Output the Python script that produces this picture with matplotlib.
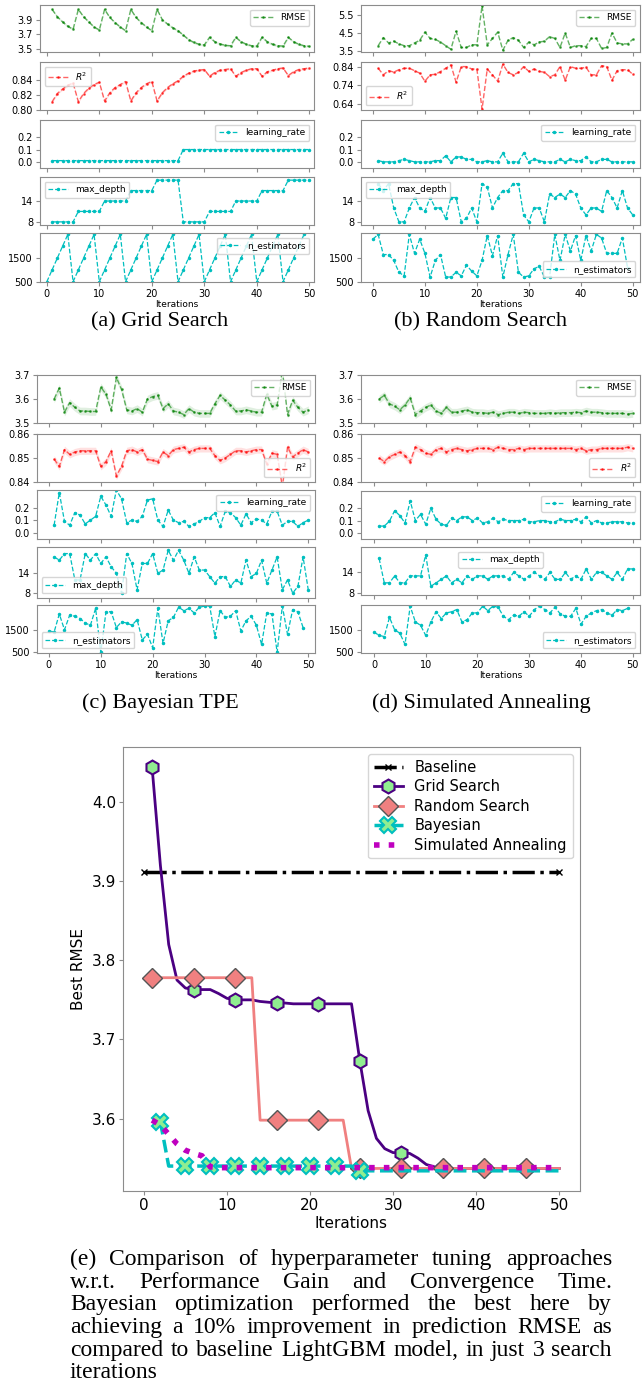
import matplotlib
matplotlib.use("Agg")
import matplotlib.pyplot as plt
import numpy as np

W, H = 642, 1384

ITERS = np.arange(1, 51)
EST_ITERS = np.arange(0, 50)

# ---- (a) grid search ----
GRID_RMSE = [4.04, 3.94, 3.87, 3.81, 3.77, 4.04, 3.94, 3.87, 3.80, 3.76,
             4.04, 3.93, 3.86, 3.80, 3.75, 4.04, 3.93, 3.86, 3.80, 3.75,
             4.04, 3.90, 3.84, 3.79, 3.75, 3.69, 3.63, 3.59, 3.565, 3.557,
             3.66, 3.60, 3.57, 3.55, 3.545, 3.66, 3.60, 3.565, 3.545, 3.54,
             3.66, 3.60, 3.565, 3.545, 3.54, 3.66, 3.60, 3.565, 3.545, 3.537]
GRID_R2 = [0.811, 0.822, 0.828, 0.833, 0.836, 0.811, 0.822, 0.829, 0.834, 0.837,
           0.812, 0.823, 0.830, 0.834, 0.838, 0.812, 0.823, 0.830, 0.835, 0.838,
           0.812, 0.823, 0.830, 0.835, 0.839, 0.845, 0.849, 0.852, 0.853, 0.854,
           0.845, 0.850, 0.853, 0.854, 0.855, 0.845, 0.850, 0.853, 0.855, 0.855,
           0.845, 0.851, 0.853, 0.855, 0.856, 0.846, 0.851, 0.854, 0.855, 0.856]
GRID_LR = [0.01, 0.01, 0.01, 0.01, 0.01, 0.01, 0.01, 0.01, 0.01, 0.01,
           0.01, 0.01, 0.01, 0.01, 0.01, 0.01, 0.01, 0.01, 0.01, 0.01,
           0.01, 0.01, 0.01, 0.01, 0.01, 0.1, 0.1, 0.1, 0.1, 0.1,
           0.1, 0.1, 0.1, 0.1, 0.1, 0.1, 0.1, 0.1, 0.1, 0.1,
           0.1, 0.1, 0.1, 0.1, 0.1, 0.1, 0.1, 0.1, 0.1, 0.1]
GRID_MD = [8, 8, 8, 8, 8, 11, 11, 11, 11, 11, 14, 14, 14, 14, 14,
           17, 17, 17, 17, 17, 20, 20, 20, 20, 20,
           8, 8, 8, 8, 8, 11, 11, 11, 11, 11, 14, 14, 14, 14, 14,
           17, 17, 17, 17, 17, 20, 20, 20, 20, 20]
GRID_NE = [500, 1000, 1500, 2000, 2500, 500, 1000, 1500, 2000, 2500,
           500, 1000, 1500, 2000, 2500, 500, 1000, 1500, 2000, 2500,
           500, 1000, 1500, 2000, 2500, 500, 1000, 1500, 2000, 2500,
           500, 1000, 1500, 2000, 2500, 500, 1000, 1500, 2000, 2500,
           500, 1000, 1500, 2000, 2500, 500, 1000, 1500, 2000, 2500]

# ---- (b) random search ----
RAND_RMSE = [3.80, 4.25, 3.95, 4.05, 3.90, 3.80, 3.80, 3.95, 4.10, 4.55,
             4.20, 4.15, 4.00, 3.80, 3.60, 4.60, 3.70, 3.70, 3.85, 3.85,
             6.00, 3.85, 4.20, 4.55, 3.55, 4.10, 4.25, 4.10, 3.70, 4.00,
             3.85, 4.00, 4.05, 4.30, 4.20, 3.70, 4.50, 3.70, 3.80, 3.80,
             3.75, 4.20, 4.20, 3.65, 3.70, 4.50, 3.95, 3.90, 3.90, 4.15]
RAND_R2 = [0.833, 0.797, 0.820, 0.812, 0.825, 0.833, 0.833, 0.820, 0.806, 0.762,
           0.797, 0.800, 0.815, 0.833, 0.851, 0.757, 0.842, 0.842, 0.829, 0.829,
           0.610, 0.829, 0.797, 0.762, 0.855, 0.810, 0.797, 0.810, 0.842, 0.816,
           0.829, 0.816, 0.811, 0.787, 0.797, 0.842, 0.767, 0.842, 0.833, 0.833,
           0.838, 0.797, 0.797, 0.847, 0.842, 0.767, 0.820, 0.825, 0.825, 0.800]
RAND_LR = [0.01, 0.0, 0.0, 0.0, 0.01, 0.02, 0.01, 0.0, 0.0, 0.0,
           0.0, 0.01, 0.01, 0.05, 0.0, 0.04, 0.04, 0.02, 0.02, 0.0,
           0.0, 0.01, 0.0, 0.0, 0.07, 0.0, 0.0, 0.0, 0.07, 0.0,
           0.02, 0.01, 0.0, 0.0, 0.0, 0.02, 0.0, 0.02, 0.01, 0.01,
           0.04, 0.0, 0.0, 0.02, 0.02, 0.0, 0.0, 0.0, 0.0, 0.0]
RAND_MD = [19, 17, 19, 12, 8, 8, 12, 15, 12, 11,
           15, 12, 12, 9, 15, 15, 8, 9, 12, 8,
           19, 18, 12, 15, 17, 17, 19, 19, 10, 8,
           12, 12, 8, 16, 15, 16, 15, 17, 16, 12,
           10, 12, 12, 11, 17, 15, 12, 17, 12, 10]
RAND_NE = [2300, 2500, 1650, 1650, 1400, 900, 750, 2500, 1700, 2300,
           1700, 700, 1400, 1650, 700, 700, 900, 750, 1200, 950,
           750, 1400, 2450, 1600, 2450, 700, 1650, 2500, 900, 700,
           750, 1050, 1150, 700, 700, 2500, 1400, 2500, 1800, 2450,
           1400, 2450, 1800, 2500, 2350, 1700, 1700, 1700, 2350, 1100]

# ---- (c) bayesian TPE ----
TPE_RMSE = [3.600, 3.645, 3.545, 3.585, 3.565, 3.550, 3.550, 3.548, 3.548, 3.650,
            3.620, 3.555, 3.690, 3.640, 3.555, 3.550, 3.560, 3.545, 3.600, 3.610,
            3.615, 3.560, 3.580, 3.550, 3.545, 3.535, 3.560, 3.545, 3.540, 3.540,
            3.540, 3.580, 3.615, 3.595, 3.575, 3.550, 3.550, 3.555, 3.550, 3.545,
            3.545, 3.620, 3.570, 3.575, 3.720, 3.535, 3.595, 3.565, 3.545, 3.555]
TPE_R2 = [0.8495, 0.8465, 0.8535, 0.8515, 0.8525, 0.8530, 0.8530, 0.8530, 0.8530, 0.8465,
          0.8485, 0.8530, 0.8425, 0.8465, 0.8530, 0.8535, 0.8525, 0.8535, 0.8495, 0.8490,
          0.8485, 0.8525, 0.8510, 0.8535, 0.8540, 0.8545, 0.8525, 0.8535, 0.8540, 0.8540,
          0.8540, 0.8510, 0.8490, 0.8500, 0.8515, 0.8530, 0.8530, 0.8525, 0.8530, 0.8535,
          0.8535, 0.8475, 0.8520, 0.8515, 0.8380, 0.8545, 0.8505, 0.8520, 0.8535, 0.8525]
TPE_LR = [0.06, 0.32, 0.09, 0.06, 0.16, 0.14, 0.07, 0.10, 0.13, 0.29,
          0.22, 0.13, 0.34, 0.27, 0.08, 0.10, 0.09, 0.13, 0.26, 0.27,
          0.10, 0.05, 0.18, 0.10, 0.08, 0.09, 0.05, 0.07, 0.09, 0.12,
          0.12, 0.16, 0.05, 0.17, 0.16, 0.12, 0.06, 0.15, 0.08, 0.11,
          0.10, 0.07, 0.17, 0.17, 0.06, 0.09, 0.09, 0.05, 0.08, 0.10]
TPE_MD = [19, 18, 20, 20, 12, 12, 20, 18, 20, 17,
          19, 16, 14, 8, 20, 17, 9, 17, 17, 20,
          14, 15, 21, 18, 21, 18, 14, 19, 15, 15,
          13, 11, 13, 13, 10, 12, 11, 18, 13, 14,
          18, 11, 15, 19, 9, 12, 8, 10, 19, 9]
TPE_NE = [1450, 1400, 2200, 1500, 2150, 2100, 2000, 1800, 1700, 2450,
          500, 2300, 2300, 1600, 1850, 1800, 1700, 1950, 1050, 1300,
          700, 2450, 900, 1900, 2050, 2500, 2350, 2450, 2250, 2500,
          2550, 2550, 1200, 2350, 2050, 2100, 2350, 1450, 1900, 2100,
          1700, 850, 2250, 2200, 500, 2550, 1300, 2400, 2300, 1600]

# ---- (d) simulated annealing ----
SA_RMSE = [3.600, 3.615, 3.580, 3.570, 3.555, 3.575, 3.605, 3.535, 3.550, 3.565,
           3.575, 3.550, 3.540, 3.565, 3.545, 3.545, 3.550, 3.555, 3.545, 3.543,
           3.543, 3.540, 3.545, 3.535, 3.540, 3.545, 3.545, 3.540, 3.545, 3.543,
           3.540, 3.540, 3.540, 3.543, 3.540, 3.543, 3.543, 3.543, 3.545, 3.543,
           3.550, 3.545, 3.545, 3.543, 3.540, 3.540, 3.540, 3.540, 3.537, 3.540]
SA_R2 = [0.8500, 0.8485, 0.8505, 0.8515, 0.8525, 0.8510, 0.8485, 0.8545, 0.8535, 0.8520,
         0.8515, 0.8535, 0.8540, 0.8525, 0.8535, 0.8540, 0.8535, 0.8530, 0.8535, 0.8540,
         0.8540, 0.8540, 0.8535, 0.8545, 0.8540, 0.8535, 0.8535, 0.8540, 0.8535, 0.8540,
         0.8540, 0.8540, 0.8540, 0.8540, 0.8540, 0.8540, 0.8540, 0.8540, 0.8535, 0.8540,
         0.8530, 0.8535, 0.8535, 0.8540, 0.8540, 0.8540, 0.8540, 0.8540, 0.8545, 0.8540]
SA_LR = [0.055, 0.055, 0.095, 0.18, 0.14, 0.08, 0.26, 0.10, 0.15, 0.07,
         0.20, 0.11, 0.07, 0.06, 0.12, 0.10, 0.13, 0.13, 0.10, 0.12,
         0.08, 0.09, 0.12, 0.09, 0.11, 0.10, 0.10, 0.10, 0.11, 0.09,
         0.09, 0.10, 0.10, 0.09, 0.09, 0.11, 0.10, 0.10, 0.11, 0.09,
         0.13, 0.08, 0.10, 0.08, 0.08, 0.09, 0.09, 0.09, 0.08, 0.08]
SA_MD = [18, 11, 11, 13, 11, 11, 13, 13, 13, 19,
         10, 11, 12, 13, 11, 12, 11, 13, 12, 13,
         13, 12, 13, 13, 13, 12, 14, 13, 12, 13,
         14, 13, 12, 14, 12, 12, 14, 12, 13, 12,
         15, 12, 14, 14, 13, 12, 14, 12, 15, 15]
SA_NE = [1400, 1250, 1200, 2050, 1500, 1350, 850, 2550, 1850, 1700,
         1250, 1850, 2300, 2000, 2250, 2300, 2400, 1850, 1950, 2250,
         2250, 2550, 2350, 2550, 2500, 2100, 1950, 2150, 2100, 2300,
         2100, 2400, 2550, 2400, 2250, 2500, 2200, 2100, 2100, 2450,
         1750, 2100, 2250, 2350, 2400, 2250, 2150, 2400, 2350, 2450]

# ---- (e) best RMSE so far ----
BASE_X = [0, 50]
BASE_Y = [3.912, 3.912]
GRID_BEST = [4.044, 3.920, 3.820, 3.775, 3.765, 3.763, 3.763, 3.763, 3.758, 3.752,
             3.750, 3.750, 3.750, 3.748, 3.747, 3.746, 3.746, 3.745, 3.745, 3.745,
             3.745, 3.745, 3.745, 3.745, 3.745, 3.673, 3.610, 3.575, 3.562, 3.557,
             3.557, 3.556, 3.550, 3.542, 3.539, 3.538, 3.537, 3.537, 3.537, 3.537,
             3.537, 3.537, 3.537, 3.537, 3.537, 3.537, 3.537, 3.537, 3.537, 3.537]
RANDOM_BEST = [3.778, 3.778, 3.778, 3.778, 3.778, 3.778, 3.778, 3.778, 3.778, 3.778,
               3.778, 3.778, 3.778, 3.598, 3.598, 3.598, 3.598, 3.598, 3.598, 3.598,
               3.598, 3.598, 3.598, 3.598, 3.537, 3.537, 3.537, 3.537, 3.537, 3.537,
               3.537, 3.537, 3.537, 3.537, 3.537, 3.537, 3.537, 3.537, 3.537, 3.537,
               3.537, 3.537, 3.537, 3.537, 3.537, 3.537, 3.537, 3.537, 3.537, 3.537]
BAYES_ITERS = np.arange(2, 51)
BAYES_BEST = [3.596, 3.540, 3.540, 3.540, 3.540, 3.540, 3.540, 3.540, 3.540, 3.540,
              3.540, 3.540, 3.540, 3.540, 3.540, 3.540, 3.540, 3.540, 3.540, 3.540,
              3.540, 3.540, 3.540, 3.540, 3.534, 3.534, 3.534, 3.534, 3.534, 3.534,
              3.534, 3.534, 3.534, 3.534, 3.534, 3.534, 3.534, 3.534, 3.534, 3.534,
              3.534, 3.534, 3.534, 3.534, 3.534, 3.534, 3.534, 3.534, 3.534]
SA_BEST = [3.598, 3.592, 3.580, 3.568, 3.560, 3.556, 3.553, 3.539, 3.538, 3.538,
           3.538, 3.538, 3.538, 3.538, 3.538, 3.538, 3.538, 3.538, 3.538, 3.538,
           3.538, 3.538, 3.538, 3.538, 3.538, 3.538, 3.538, 3.538, 3.538, 3.538,
           3.538, 3.538, 3.538, 3.538, 3.538, 3.538, 3.538, 3.538, 3.538, 3.538,
           3.538, 3.538, 3.538, 3.538, 3.538, 3.538, 3.538, 3.538, 3.538, 3.538]

CAPTION_E = [
    "(e) Comparison of hyperparameter tuning approaches",
    "w.r.t. Performance Gain and Convergence Time.",
    "Bayesian optimization performed the best here by",
    "achieving a 10% improvement in prediction RMSE as",
    "compared to baseline LightGBM model, in just 3 search",
    "iterations",
]

RMSE_BAND = 0.016
R2_BAND = 0.0015
SPINE = "#8c8c8c"
HYPER = "#00bfbf"

fig = plt.figure(figsize=(W / 100, H / 100), dpi=100)


def px_axes(l, t, r, b):
    return fig.add_axes([l / W, 1 - b / H, (r - l) / W, (b - t) / H])


def style(ax, size=7):
    for s in ax.spines.values():
        s.set_color(SPINE)
    ax.tick_params(labelsize=size, length=3, color=SPINE, pad=2)


def hyper_panel(left, right, rows, xlim, series, ylims, yticks, locs):
    rmse, r2, lr, md, ne = series
    axes = []
    for i, (top, bot) in enumerate(rows):
        ax = px_axes(left, top, right, bot)
        style(ax)
        ax.set_xlim(*xlim)
        ax.set_ylim(*ylims[i])
        ax.set_yticks(yticks[i])
        ax.set_xticks([0, 10, 20, 30, 40, 50])
        if i < 4:
            ax.tick_params(labelbottom=False)
        axes.append(ax)

    y = np.array(rmse)
    axes[0].fill_between(ITERS, y - RMSE_BAND, y + RMSE_BAND, color="green", alpha=0.12, lw=0)
    axes[0].plot(ITERS, y, color="green", ls="--", lw=1, marker=".", ms=2, alpha=0.6, label="RMSE")
    y = np.array(r2)
    axes[1].fill_between(ITERS, y - R2_BAND, y + R2_BAND, color="red", alpha=0.12, lw=0)
    axes[1].plot(ITERS, y, color="red", ls="--", lw=1, marker=".", ms=2, alpha=0.6, label="$R^2$")
    axes[2].plot(ITERS, lr, color=HYPER, ls="--", lw=0.9, marker=".", ms=3, label="learning_rate")
    axes[3].plot(ITERS, md, color=HYPER, ls="--", lw=0.9, marker=".", ms=3, label="max_depth")
    axes[4].plot(EST_ITERS, ne, color=HYPER, ls="--", lw=0.9, marker=".", ms=3, label="n_estimators")

    for ax, loc in zip(axes, locs):
        ax.legend(loc=loc, fontsize=6.5, handlelength=2.2, borderpad=0.4,
                  handletextpad=0.8, framealpha=0.8)
    axes[4].set_xlabel("Iterations", fontsize=6.5, labelpad=1)
    return axes


RMSE_LIM_A, R2_LIM_A = (3.46, 4.10), (0.80, 0.864)
RMSE_LIM_B, R2_LIM_B = (3.45, 6.05), (0.605, 0.867)
RMSE_LIM_CD, R2_LIM_CD = (3.50, 3.70), (0.84, 0.86)
LR_LIM = (-0.05, 0.34)
NE_LIM_AB, NE_LIM_CD = (490, 2560), (470, 2600)

TICKS_A = [[3.5, 3.7, 3.9], [0.80, 0.82, 0.84], [0.0, 0.1, 0.2], [8, 14], [500, 1500]]
TICKS_B = [[3.5, 4.5, 5.5], [0.64, 0.74, 0.84], [0.0, 0.1, 0.2], [8, 14], [500, 1500]]
TICKS_CD = [[3.5, 3.6, 3.7], [0.84, 0.85, 0.86], [0.0, 0.1, 0.2], [8, 14], [500, 1500]]

hyper_panel(40, 314, [(5, 52), (62, 110), (120, 168), (177, 225), (233, 282)],
            (-1.3, 50.9), (GRID_RMSE, GRID_R2, GRID_LR, GRID_MD, GRID_NE),
            [RMSE_LIM_A, R2_LIM_A, LR_LIM, (7.1, 20.9), NE_LIM_AB], TICKS_A,
            ["upper right", "upper left", "upper right", "upper left", "upper right"])
hyper_panel(361, 640, [(5, 52), (62, 110), (120, 168), (177, 225), (233, 282)],
            (-2.3, 51.4), (RAND_RMSE, RAND_R2, RAND_LR, RAND_MD, RAND_NE),
            [RMSE_LIM_B, R2_LIM_B, LR_LIM, (7.1, 20.9), NE_LIM_AB], TICKS_B,
            ["upper right", "lower left", "upper right", "upper left", "lower right"])
hyper_panel(37, 315, [(375, 423), (434, 482), (490, 539), (547, 598), (605, 653)],
            (-2.3, 51.3), (TPE_RMSE, TPE_R2, TPE_LR, TPE_MD, TPE_NE),
            [RMSE_LIM_CD, R2_LIM_CD, LR_LIM, (6.5, 22.0), NE_LIM_CD], TICKS_CD,
            ["upper right", "lower right", "upper right", "lower left", "lower left"])
hyper_panel(361, 640, [(375, 423), (434, 482), (491, 539), (547, 595), (605, 653)],
            (-2.5, 51.4), (SA_RMSE, SA_R2, SA_LR, SA_MD, SA_NE),
            [RMSE_LIM_CD, R2_LIM_CD, LR_LIM, (7.5, 21.3), NE_LIM_CD], TICKS_CD,
            ["upper right", "lower right", "upper right", "upper center", "lower right"])

serif = ["Liberation Serif", "DejaVu Serif"]
for x, y, s in [(160, 322, "(a) Grid Search"), (481, 322, "(b) Random Search"),
                (160, 703, "(c) Bayesian TPE"), (481, 703, "(d) Simulated Annealing")]:
    fig.text(x / W, 1 - y / H, s, ha="center", va="center", family=serif, fontsize=16)

# ---- (e) convergence comparison ----
ax = px_axes(123, 747, 580, 1191)
style(ax, 11)
ax.plot(BASE_X, BASE_Y, color="black", ls="-.", lw=2.5, marker="x", ms=4, label="Baseline")
ax.plot(ITERS, GRID_BEST, color="indigo", lw=2, marker="h", ms=10, mfc="lightgreen",
        mec="indigo", mew=1.5, markevery=5, label="Grid Search")
ax.plot(ITERS, RANDOM_BEST, color="lightcoral", lw=2, marker="D", ms=10, mfc="lightcoral",
        mec="#555555", mew=1, markevery=5, label="Random Search")
ax.plot(BAYES_ITERS, BAYES_BEST, color="c", ls="--", lw=2.5, marker="X", ms=11,
        mfc="lightgreen", mec="c", mew=1.5, markevery=slice(0, 25, 3), label="Bayesian")
ax.plot(ITERS, SA_BEST, color="m", ls=":", lw=4, label="Simulated Annealing")
ax.set_xlabel("Iterations", fontsize=11, labelpad=2)
ax.set_ylabel("Best RMSE", fontsize=11)
ax.legend(loc="upper right", fontsize=10.5, labelspacing=0.3, framealpha=0.8)

# caption (e), justified like the paper text
renderer = fig.canvas.get_renderer()
x0, x1 = 70, 612
baselines = [1265, 1288, 1310, 1333, 1356, 1378]


def word_widths(words, fs):
    arts = [fig.text(0, 0, w, family=serif, fontsize=fs) for w in words]
    ws = [a.get_window_extent(renderer).width for a in arts]
    for a in arts:
        a.remove()
    return ws


probe = fig.text(0, 0, "a b", family=serif, fontsize=16)
ab = probe.get_window_extent(renderer).width
probe.remove()
space16 = ab - sum(word_widths(["a", "b"], 16))
natural = [sum(word_widths(l.split(), 16)) + space16 * (len(l.split()) - 1) for l in CAPTION_E[:-1]]
fs = min(17, 16 * (x1 - x0) / max(natural))

for i, line in enumerate(CAPTION_E):
    words = line.split()
    ws = word_widths(words, fs)
    if i < len(CAPTION_E) - 1:
        gap = (x1 - x0 - sum(ws)) / (len(words) - 1)
    else:
        gap = space16 * fs / 16
    x = x0
    for w, wd in zip(words, ws):
        fig.text(x / W, 1 - baselines[i] / H, w, family=serif, fontsize=fs, va="baseline")
        x += wd + gap

fig.savefig("out.png", dpi=100)
